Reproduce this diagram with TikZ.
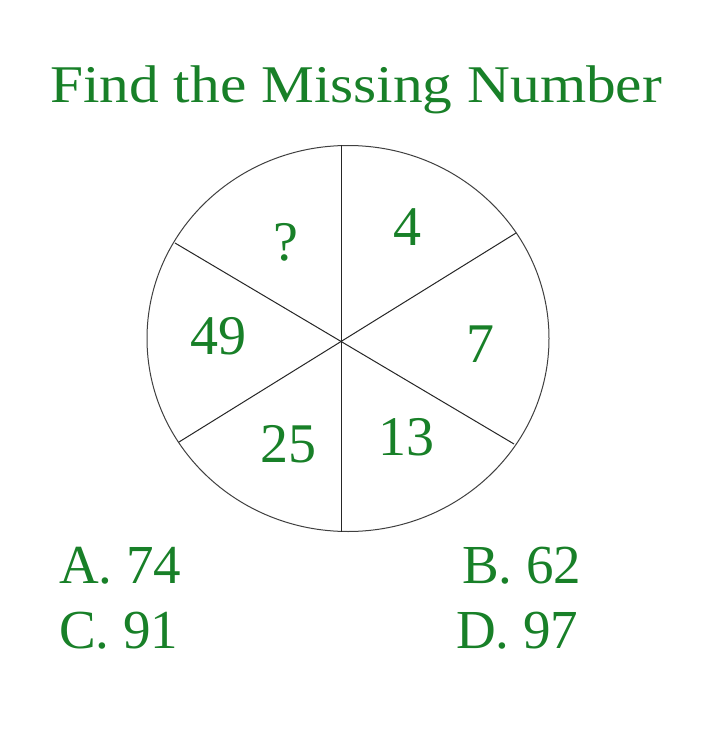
\documentclass[tikz,border=0pt]{standalone}
\usepackage{fontspec}
\setmainfont{Liberation Serif}
\definecolor{puzgreen}{RGB}{24,128,40}
\begin{document}
\begin{tikzpicture}[x=1pt,y=-1pt,
  txt/.style={inner sep=0pt,text=puzgreen,anchor=base},
  big/.style={txt,font=\fontsize{56}{60}\selectfont},
  ans/.style={txt,anchor=base west,font=\fontsize{55}{60}\selectfont},
  seg/.style={draw=black!85,line width=1pt}]
\useasboundingbox[fill=white] (0,0) rectangle (707,754);
% title
\node[txt,anchor=base west,font=\fontsize{53}{60}\selectfont,xscale=1.12] (title) at (50,103) {Find the Missing Number};
% circle
\draw[seg,draw=black!75] (348,338.5) ellipse [x radius=201, y radius=193];
\coordinate (c) at (341,341);
\coordinate (top) at (341,145);
\coordinate (bot) at (341,532);
\coordinate (ur) at (516,233);
\coordinate (ul) at (175,243);
\coordinate (ll) at (179,442);
\coordinate (lr) at (514,444);
\draw[seg] (top) -- (bot);
\draw[seg] (ul) -- (lr);
\draw[seg] (ur) -- (ll);
% numbers
\node[big] (q) at (286,260) {?};
\node[big] (n4) at (407,245) {4};
\node[big] (n7) at (480,362) {7};
\node[big] (n49) at (218,354) {49};
\node[big] (n25) at (288,462) {25};
\node[big] (n13) at (406,455) {13};
% answers
\node[ans] (a) at (59,583) {A. 74};
\node[ans] (b) at (462,583) {B. 62};
\node[ans] (cc) at (59,648) {C. 91};
\node[ans] (d) at (456,648) {D. 97};
\end{tikzpicture}
\end{document}
